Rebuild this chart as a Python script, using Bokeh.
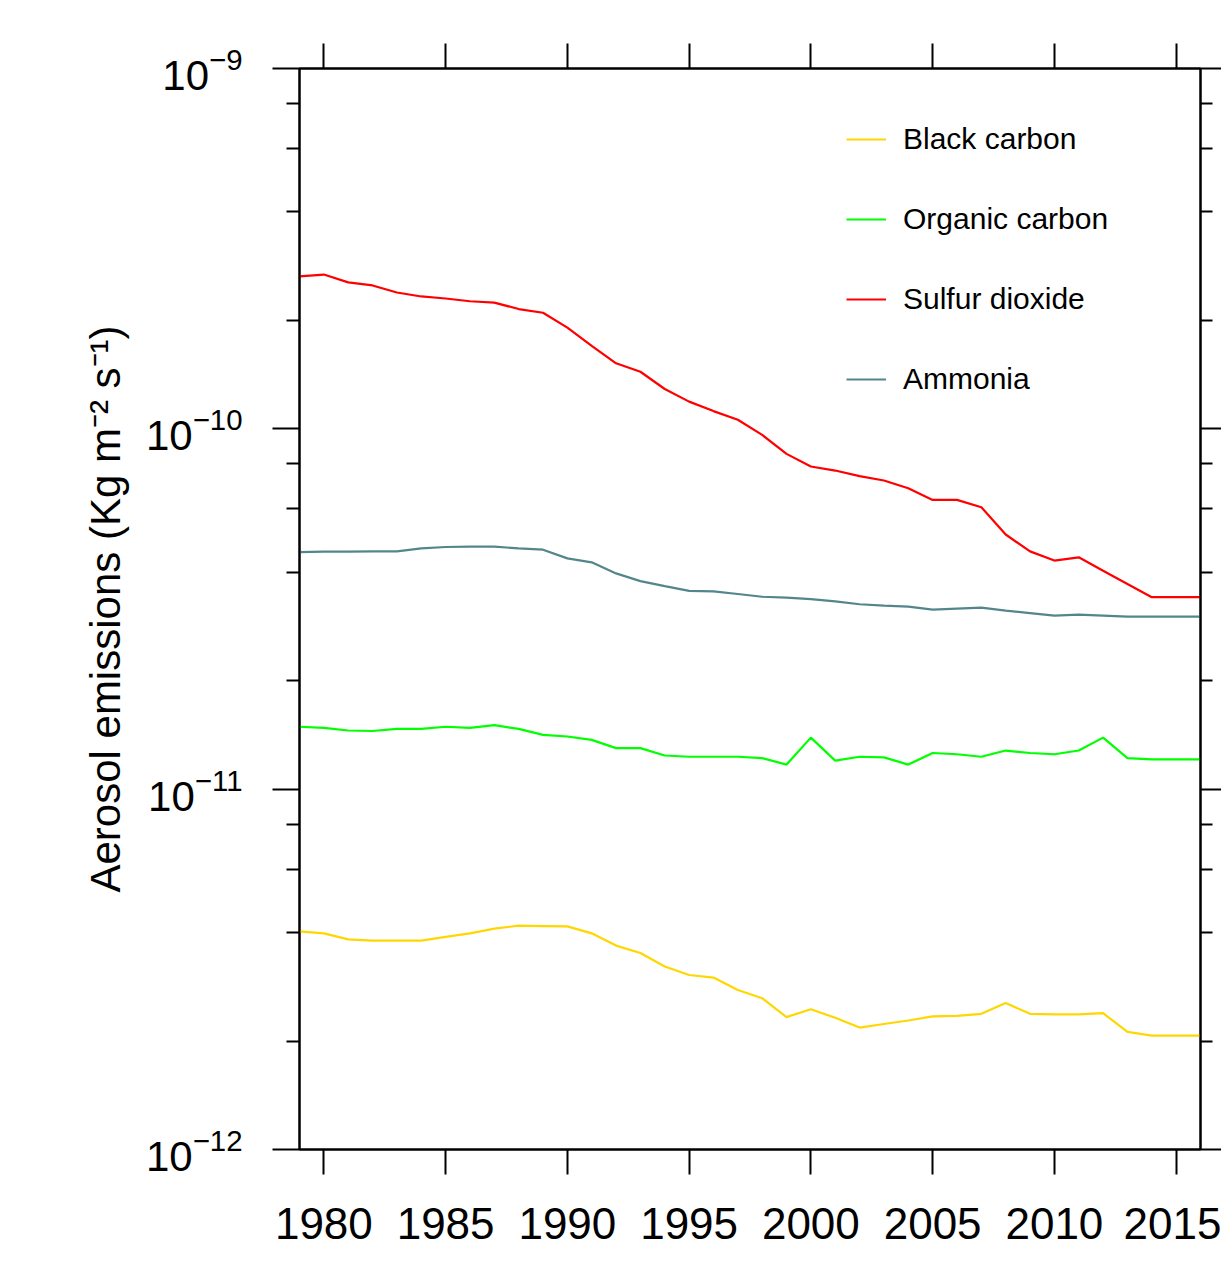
from bokeh.plotting import figure
from bokeh.models import (Range1d, FixedTicker, LinearAxis, LogAxis, Legend,
                          LegendItem, LogTickFormatter, CustomJSTickFormatter)
from bokeh.embed import file_html
from bokeh.resources import INLINE

years = list(range(1979, 2017))

black_carbon = [4.03e-12, 3.98e-12, 3.83e-12, 3.80e-12, 3.80e-12, 3.80e-12, 3.89e-12,
                3.98e-12, 4.10e-12, 4.18e-12, 4.17e-12, 4.16e-12, 3.98e-12, 3.68e-12,
                3.51e-12, 3.22e-12, 3.05e-12, 3.00e-12, 2.77e-12, 2.63e-12, 2.33e-12,
                2.45e-12, 2.32e-12, 2.18e-12, 2.23e-12, 2.28e-12, 2.34e-12, 2.35e-12,
                2.38e-12, 2.55e-12, 2.38e-12, 2.37e-12, 2.37e-12, 2.39e-12, 2.12e-12,
                2.07e-12, 2.07e-12, 2.07e-12]

organic_carbon = [1.49e-11, 1.48e-11, 1.455e-11, 1.45e-11, 1.47e-11, 1.47e-11, 1.49e-11,
                  1.48e-11, 1.505e-11, 1.47e-11, 1.415e-11, 1.40e-11, 1.37e-11, 1.30e-11,
                  1.30e-11, 1.24e-11, 1.23e-11, 1.23e-11, 1.23e-11, 1.22e-11, 1.17e-11,
                  1.39e-11, 1.20e-11, 1.23e-11, 1.225e-11, 1.17e-11, 1.26e-11, 1.25e-11,
                  1.23e-11, 1.28e-11, 1.26e-11, 1.25e-11, 1.28e-11, 1.39e-11, 1.22e-11,
                  1.21e-11, 1.21e-11, 1.21e-11]

sulfur_dioxide = [2.65e-10, 2.68e-10, 2.55e-10, 2.50e-10, 2.39e-10, 2.33e-10, 2.30e-10,
                  2.26e-10, 2.24e-10, 2.15e-10, 2.10e-10, 1.91e-10, 1.70e-10, 1.52e-10,
                  1.44e-10, 1.29e-10, 1.19e-10, 1.12e-10, 1.06e-10, 9.62e-11, 8.52e-11,
                  7.86e-11, 7.66e-11, 7.39e-11, 7.19e-11, 6.84e-11, 6.35e-11, 6.35e-11,
                  6.06e-11, 5.09e-11, 4.57e-11, 4.31e-11, 4.40e-11, 4.04e-11, 3.71e-11,
                  3.41e-11, 3.41e-11, 3.41e-11]

ammonia = [4.55e-11, 4.56e-11, 4.56e-11, 4.57e-11, 4.57e-11, 4.66e-11, 4.70e-11,
           4.71e-11, 4.71e-11, 4.66e-11, 4.62e-11, 4.37e-11, 4.26e-11, 3.97e-11,
           3.78e-11, 3.66e-11, 3.55e-11, 3.54e-11, 3.48e-11, 3.42e-11, 3.40e-11,
           3.37e-11, 3.32e-11, 3.26e-11, 3.23e-11, 3.21e-11, 3.15e-11, 3.17e-11,
           3.19e-11, 3.13e-11, 3.08e-11, 3.03e-11, 3.05e-11, 3.03e-11, 3.01e-11,
           3.01e-11, 3.01e-11, 3.01e-11]

series_names = ["Black carbon", "Organic carbon", "Sulfur dioxide", "Ammonia"]
series_colors = ["#FFD700", "#00FF00", "#FF0000", "#53868B"]
x_ticks = [1980, 1985, 1990, 1995, 2000, 2005, 2010, 2015]
y_major = [1e-12, 1e-11, 1e-10, 1e-9]
y_minor = [m * d for d in (1e-12, 1e-11, 1e-10) for m in (2, 4, 6, 8)]

FONT = "Liberation Sans"

p = figure(width=1221, height=1265, y_axis_type="log",
           x_range=Range1d(1979, 2016), y_range=Range1d(1e-12, 1e-9),
           output_backend="svg", toolbar_location=None,
           min_border_left=299, min_border_right=21,
           min_border_top=68, min_border_bottom=116,
           background_fill_color="white", border_fill_color="white")

p.grid.visible = False
p.outline_line_color = "black"
p.outline_line_width = 2

# bottom axis
xa = p.xaxis[0]
xa.ticker = FixedTicker(ticks=x_ticks, minor_ticks=[])
xa.major_tick_in = 0
xa.major_tick_out = 25
xa.minor_tick_out = 0
xa.minor_tick_in = 0
xa.axis_line_width = 2
xa.major_tick_line_width = 2
xa.major_label_text_font = FONT
xa.major_label_text_font_size = "44px"
xa.major_label_text_color = "black"
xa.major_label_standoff = 33

# left axis
ya = p.yaxis[0]
ya.ticker = FixedTicker(ticks=y_major, minor_ticks=y_minor)
ya.formatter = LogTickFormatter()
ya.major_tick_in = 0
ya.major_tick_out = 27
ya.minor_tick_in = 0
ya.minor_tick_out = 13
ya.axis_line_width = 2
ya.major_tick_line_width = 2
ya.minor_tick_line_width = 2
ya.major_label_text_font = FONT
ya.major_label_text_font_size = "42px"
ya.major_label_text_color = "black"
ya.major_label_standoff = 30
ya.axis_label = "Aerosol emissions (Kg m\u207b\u00b2 s\u207b\u00b9)"
ya.axis_label_text_font = FONT
ya.axis_label_text_font_size = "42px"
ya.axis_label_text_font_style = "normal"
ya.axis_label_text_color = "black"
ya.axis_label_standoff = 14

blank = CustomJSTickFormatter(code="return ''")

# top axis (ticks only)
ta = LinearAxis(ticker=FixedTicker(ticks=x_ticks, minor_ticks=[]), formatter=blank,
                major_tick_in=0, major_tick_out=25, minor_tick_in=0, minor_tick_out=0,
                axis_line_width=2, major_tick_line_width=2,
                major_label_standoff=0)
p.add_layout(ta, "above")

# right axis (ticks only)
ra = LogAxis(ticker=FixedTicker(ticks=y_major, minor_ticks=y_minor), formatter=blank,
             major_tick_in=0, major_tick_out=21, minor_tick_in=0, minor_tick_out=12,
             axis_line_width=2, major_tick_line_width=2, minor_tick_line_width=2,
             major_label_standoff=0)
p.add_layout(ra, "right")

renderers = []
for vals, color in zip([black_carbon, organic_carbon, sulfur_dioxide, ammonia], series_colors):
    r = p.line(years, vals, line_color=color, line_width=2.2)
    renderers.append(r)

legend = Legend(items=[LegendItem(label=n, renderers=[r]) for n, r in zip(series_names, renderers)],
                location=(547, 753), glyph_width=40, glyph_height=30,
                label_standoff=17, spacing=46, padding=0, margin=0,
                border_line_color=None, background_fill_alpha=0,
                label_text_font=FONT, label_text_font_size="30px",
                label_text_color="black")
p.add_layout(legend)

open("out.html", "w").write(file_html(p, INLINE))
